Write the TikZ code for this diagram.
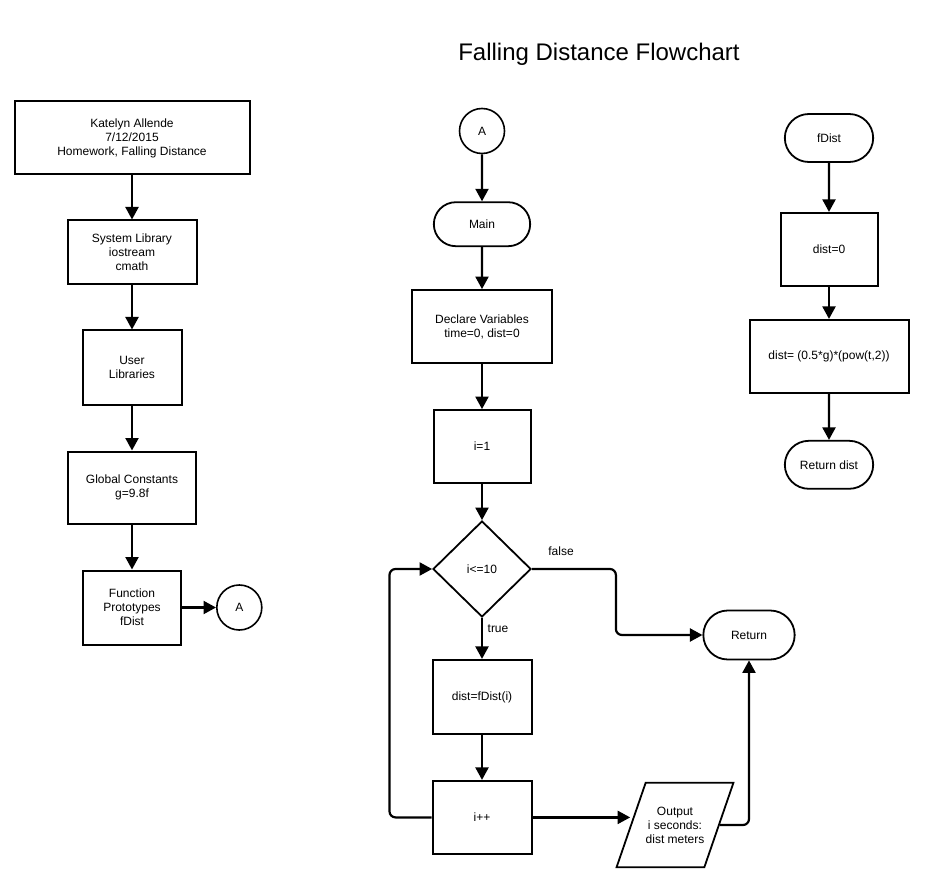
\documentclass[tikz,border=0pt]{standalone}
\usepackage{fontspec}
\setmainfont{Liberation Sans}
\usetikzlibrary{positioning, shapes.geometric, shapes.misc, arrows.meta}

\begin{document}
\begin{tikzpicture}[x=1pt, y=-1pt, node distance=44pt,
  every node/.style={align=center, font=\fontsize{12}{14}\selectfont},
  >={Triangle[length=12.5pt, width=13pt]},
  proc/.style={rectangle, draw, line width=2pt},
  term/.style={rounded rectangle, draw, line width=1.8pt},
  conn/.style={circle, draw, line width=1.6pt, minimum size=45pt, inner sep=0pt},
  flow/.style={->, line width=2.2pt}]

\useasboundingbox (0,0) rectangle (934,890);

% Title
\node (title) [font=\fontsize{24}{28}\selectfont] at (599,54) {Falling Distance Flowchart};

% Left column: header, libraries, prototypes
\node (header) [proc, minimum width=235pt, minimum height=73pt] at (132,138) {Katelyn Allende\\ 7/12/2015\\ Homework, Falling Distance};
\node (syslib) [proc, below=of header, minimum width=129pt, minimum height=64pt] {System Library\\ iostream\\ cmath};
\node (userlib) [proc, below=of syslib, minimum width=99pt, minimum height=74pt] {User\\ Libraries};
\node (consts) [proc, below=45pt of userlib, minimum width=128pt, minimum height=72pt] {Global Constants\\ g=9.8f};
\node (protos) [proc, below=45pt of consts, minimum width=98pt, minimum height=74pt] {Function\\ Prototypes\\ fDist};
\node (linkA) [conn, right=34pt of protos] {A};

% Middle column: main program
\node (startA) [conn] at (482,131) {A};
\node (main) [term, below=47pt of startA, minimum width=103pt, minimum height=44pt] {Main};
\node (decl) [proc, below=42pt of main, minimum width=140pt, minimum height=73pt] {Declare Variables\\ time=0, dist=0};
\node (init) [proc, below=45pt of decl, minimum width=97pt, minimum height=73pt] {i=1};
\node (test) [diamond, draw, line width=1.8pt, below=36pt of init, minimum width=98pt, minimum height=96pt, inner sep=0pt] {i<=10};
\node (call) [proc, below=41pt of test, minimum width=99pt, minimum height=74pt] {dist=fDist(i)};
\node (incr) [proc, below=45pt of call, minimum width=99pt, minimum height=73pt] {i++};
\node (out) [trapezium, draw, line width=1.8pt, trapezium left angle=71, trapezium right angle=109, inner xsep=0pt, inner ysep=24pt] at (675,825) {Output\\ i seconds:\\ dist meters};
\node (ret) [term, minimum width=98pt, minimum height=49pt] at (749,635) {Return};
\node (lfalse) at (561,551) {false};
\node (ltrue) at (498,629) {true};

% Right column: fDist function
\node (fdist) [term, minimum width=95pt, minimum height=48pt] at (829,138) {fDist};
\node (zero) [proc, below=49pt of fdist, minimum width=97pt, minimum height=73pt] {dist=0};
\node (calc) [proc, below=32pt of zero, minimum width=159pt, minimum height=73pt] {dist= (0.5*g)*(pow(t,2))};
\node (retdist) [term, below=46pt of calc, minimum width=95pt, minimum height=48pt] {Return dist};

% Arrows
\draw[flow] (header) -- (syslib);
\draw[flow] (syslib) -- (userlib);
\draw[flow] (userlib) -- (consts);
\draw[flow] (consts) -- (protos);
\draw[flow] (protos) -- (linkA);

\draw[flow] (startA) -- (main);
\draw[flow] (main) -- (decl);
\draw[flow] (decl) -- (init);
\draw[flow] (init) -- (test);
\draw[flow] (test) -- (call);
\draw[flow] (call) -- (incr);
\draw[flow, rounded corners=6pt] (test.east) -- ++(84pt,0) |- (ret.west);
\draw[flow, rounded corners=6pt] (incr.west) -- ++(-42pt,0) |- (test.west);
\draw[flow] (incr.east) -- (incr.east -| out.west);
\draw[flow, rounded corners=6pt] (out.east) -| (ret.south);

\draw[flow] (fdist) -- (zero);
\draw[flow] (zero) -- (calc);
\draw[flow] (calc) -- (retdist);

\end{tikzpicture}
\end{document}
